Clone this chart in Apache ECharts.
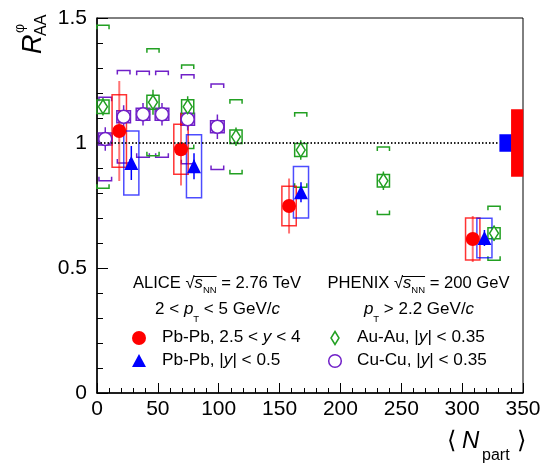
<!DOCTYPE html>
<html><head><meta charset="utf-8">
<script src="https://cdn.jsdelivr.net/npm/echarts@6/dist/echarts.min.js"></script>
<style>html,body{margin:0;padding:0;background:#fff}#c{width:547px;height:463px}</style>
</head><body><div id="c"></div>
<script>
// ---- data ----
// ALICE Pb-Pb, 2.5 < y < 4
const fwdX = [18.3, 69.0, 157.8, 308.7];
const fwdY = [1.048, 0.975, 0.748, 0.616];
const fwdStat = [0.20, 0.145, 0.11, 0.092];
const fwdSys = [0.145, 0.10, 0.079, 0.084];
// ALICE Pb-Pb, |y| < 0.5
const midX = [28.2, 79.7, 167.6, 318.3];
const midY = [0.92, 0.907, 0.803, 0.62];
const midStat = [0.068, 0.052, 0.04, 0.032];
const midSys = [0.128, 0.126, 0.103, 0.079];
// PHENIX Au-Au, |y| < 0.35
const auX = [4.9, 46.0, 74.5, 114.2, 167.4, 235.3, 326.2];
const auY = [1.145, 1.163, 1.145, 1.025, 0.972, 0.849, 0.639];
const auStat = [0.035, 0.05, 0.042, 0.037, 0.039, 0.037, 0.03];
const auBoxErr = [0.027, 0.028, 0.028, 0.027, 0.026, 0.025, 0.022];
const auBracket = [0.326, 0.214, 0.167, 0.148, 0.149, 0.135, 0.108];
// PHENIX Cu-Cu, |y| < 0.35
const cuX = [6.8, 21.9, 37.8, 53.4, 74.5, 98.9];
const cuY = [1.016, 1.105, 1.115, 1.115, 1.095, 1.065];
const cuStat = [0.047, 0.046, 0.045, 0.045, 0.045, 0.049];
const cuBoxErr = [0.024, 0.024, 0.024, 0.024, 0.024, 0.024];
const cuBracket = [0.167, 0.185, 0.172, 0.172, 0.178, 0.171];
// global uncertainties (mid = blue, fwd = red)
const globX = [335.7, 345.2];
const globErr = [0.035, 0.135];
// reference line
const refLine = [[0, 1], [330, 1]];
// axes
const xMin = 0, xMax = 350, xStep = 50;
const yMin = 0, yMax = 1.5, yStep = 0.5;

const RED = '#ff0000', BLUE = '#0000ff', GREEN = '#22a022', PURPLE = '#7020c8';
const FF = "'Liberation Sans', Arial, Helvetica, sans-serif";

function zip(...arrs) { return arrs[0].map((_, i) => arrs.map(a => a[i])); }

function boxSeries(data, hw, stroke, fill, lw) {
  return {
    type: 'custom', data, silent: true, renderItem: (p, api) => {
      const x = api.value(0), y = api.value(1), e = api.value(2);
      const a = api.coord([x - hw, y + e]), b = api.coord([x + hw, y - e]);
      return { type: 'rect', shape: { x: a[0], y: a[1], width: b[0] - a[0], height: b[1] - a[1] },
        style: { fill: fill || 'none', stroke: stroke || 'none', lineWidth: lw || 0 } };
    }
  };
}
function errSeries(data, color, lw) {
  return {
    type: 'custom', data, silent: true, renderItem: (p, api) => {
      const x = api.value(0), y = api.value(1), e = api.value(2);
      const a = api.coord([x, y + e]), b = api.coord([x, y - e]);
      return { type: 'line', shape: { x1: a[0], y1: a[1], x2: b[0], y2: b[1] }, style: { stroke: color, lineWidth: lw } };
    }
  };
}
function bracketSeries(data, hw, tick, color) {
  return {
    type: 'custom', data, silent: true, renderItem: (p, api) => {
      const x = api.value(0), y = api.value(1), e = api.value(2);
      const t = api.coord([x, y + e])[1], b = api.coord([x, y - e])[1];
      const l = api.coord([x - hw, y])[0], r = api.coord([x + hw, y])[0];
      const st = { fill: 'none', stroke: color, lineWidth: 1.5 };
      return { type: 'group', children: [
        { type: 'polyline', shape: { points: [[l, t + tick], [l, t], [r, t], [r, t + tick]] }, style: st },
        { type: 'polyline', shape: { points: [[l, b - tick], [l, b], [r, b], [r, b - tick]] }, style: st }
      ] };
    }
  };
}

// text helpers
const ctx = document.createElement('canvas').getContext('2d');
function fontStr(p) { return (p.i ? 'italic ' : '') + (p.s || 17) + 'px ' + FF; }
function measure(p) { ctx.font = fontStr(p); return ctx.measureText(p.t).width; }
function textLine(pieces, x, y, align, size) {
  pieces.forEach(p => { if (!p.s) p.s = size; });
  const ws = pieces.map(measure);
  const total = ws.reduce((a, b) => a + b, 0);
  let cx = align === 'center' ? x - total / 2 : x;
  const els = []; let o0 = null, o1 = null;
  pieces.forEach((p, k) => {
    els.push({ type: 'text', silent: true, style: { text: p.t, x: cx, y: y + (p.dy || 0), font: fontStr(p), fill: '#000', textAlign: 'left', textVerticalAlign: 'middle' } });
    if (p.ol) { if (o0 === null) o0 = cx; o1 = cx + ws[k]; }
    cx += ws[k];
  });
  if (o0 !== null) els.push({ type: 'line', silent: true, shape: { x1: o0 - 1, y1: y - 7, x2: o1, y2: y - 7 }, style: { stroke: '#000', lineWidth: 1 } });
  return els;
}

const graphics = [].concat(
  textLine([{ t: 'ALICE ' }, { t: '√' }, { t: 's', i: 1, ol: 1 }, { t: 'NN', s: 9.5, dy: 7, ol: 1 }, { t: ' = 2.76 TeV' }], 217, 283.5, 'center', 16.6),
  textLine([{ t: 'PHENIX ' }, { t: '√' }, { t: 's', i: 1, ol: 1 }, { t: 'NN', s: 9.5, dy: 7, ol: 1 }, { t: ' = 200 GeV' }], 418.5, 283.5, 'center', 16.6),
  textLine([{ t: '2 < ' }, { t: 'p', i: 1 }, { t: 'T', s: 9.5, dy: 10 }, { t: ' < 5 GeV/' }, { t: 'c', i: 1 }], 217.5, 309, 'center', 17),
  textLine([{ t: 'p', i: 1 }, { t: 'T', s: 9.5, dy: 10 }, { t: ' > 2.2 GeV/' }, { t: 'c', i: 1 }], 419, 309, 'center', 17),
  textLine([{ t: 'Pb-Pb, 2.5 < ' }, { t: 'y', i: 1 }, { t: ' < 4' }], 162, 337.5, 'left', 17.2),
  textLine([{ t: 'Pb-Pb, |' }, { t: 'y', i: 1 }, { t: '| < 0.5' }], 162, 360, 'left', 17.2),
  textLine([{ t: 'Au-Au, |' }, { t: 'y', i: 1 }, { t: '| < 0.35' }], 357, 337.5, 'left', 17.2),
  textLine([{ t: 'Cu-Cu, |' }, { t: 'y', i: 1 }, { t: '| < 0.35' }], 357, 360, 'left', 17.2),
  [
    { type: 'circle', silent: true, shape: { cx: 139, cy: 338, r: 7 }, style: { fill: RED } },
    { type: 'polygon', silent: true, shape: { points: [[132, 367], [146, 367], [139, 354]] }, style: { fill: BLUE } },
    { type: 'polygon', silent: true, shape: { points: [[335, 331.5], [339, 338], [335, 344.5], [331, 338]] }, style: { fill: 'none', stroke: GREEN, lineWidth: 1.5 } },
    { type: 'circle', silent: true, shape: { cx: 335, cy: 361, r: 6.3 }, style: { fill: 'none', stroke: PURPLE, lineWidth: 1.5 } },
    // x-axis title
    { type: 'text', silent: true, style: { text: '⟨', x: 451, y: 441, font: '24px ' + FF, fill: '#000', textAlign: 'center', textVerticalAlign: 'middle' } },
    { type: 'text', silent: true, style: { text: 'N', x: 462, y: 441, font: 'italic 24px ' + FF, fill: '#000', textAlign: 'left', textVerticalAlign: 'middle' } },
    { type: 'text', silent: true, style: { text: 'part', x: 482, y: 456, font: '16px ' + FF, fill: '#000', textAlign: 'left', textVerticalAlign: 'middle' } },
    { type: 'text', silent: true, style: { text: '⟩', x: 521, y: 441, font: '24px ' + FF, fill: '#000', textAlign: 'center', textVerticalAlign: 'middle' } },
    // y-axis title (rotated)
    { type: 'group', x: 33, y: 54, rotation: Math.PI / 2, silent: true, children: [
      { type: 'text', style: { text: 'R', x: 0, y: 0, font: 'italic 27px ' + FF, fill: '#000', textAlign: 'left', textVerticalAlign: 'middle' } },
      { type: 'text', style: { text: 'φ', x: 21, y: -13, font: '14px ' + FF, fill: '#000', textAlign: 'left', textVerticalAlign: 'middle' } },
      { type: 'text', style: { text: 'AA', x: 18, y: 9, font: '16px ' + FF, fill: '#000', textAlign: 'left', textVerticalAlign: 'middle' } }
    ] }
  ]
);

const chart = echarts.init(document.getElementById('c'), null, { renderer: 'canvas' });
chart.setOption({
  animation: false,
  backgroundColor: '#fff',
  grid: { left: 97, top: 18, width: 426, height: 375, show: true, borderColor: '#000', borderWidth: 1, backgroundColor: 'transparent' },
  xAxis: {
    type: 'value', min: xMin, max: xMax, interval: xStep,
    axisLine: { show: true, onZero: false, lineStyle: { color: '#000', width: 1.5 } },
    axisTick: { show: true, inside: true, length: 10, lineStyle: { color: '#000', width: 1 } },
    minorTick: { show: true, splitNumber: 5, length: 5, lineStyle: { color: '#000', width: 1 } },
    splitLine: { show: false },
    axisLabel: { fontSize: 21, color: '#000', fontFamily: FF, margin: 6 }
  },
  yAxis: {
    type: 'value', min: yMin, max: yMax, interval: yStep,
    axisLine: { show: true, onZero: false, lineStyle: { color: '#000', width: 1.5 } },
    axisTick: { show: true, inside: true, length: 11, lineStyle: { color: '#000', width: 1 } },
    minorTick: { show: true, splitNumber: 5, length: 6, lineStyle: { color: '#000', width: 1 } },
    splitLine: { show: false },
    axisLabel: { fontSize: 21, color: '#000', fontFamily: FF, margin: 10 }
  },
  graphic: graphics,
  series: [
    { type: 'line', data: refLine, symbol: 'none', silent: true, lineStyle: { color: '#222', width: 2, type: [1.5, 2] } },
    boxSeries(zip(globX, [1, 1], globErr).slice(0, 1), 5.1, null, BLUE, 0),
    boxSeries(zip(globX, [1, 1], globErr).slice(1, 2), 5.0, null, RED, 0),
    bracketSeries(zip(cuX, cuY, cuBracket), 5.2, 4, PURPLE),
    bracketSeries(zip(auX, auY, auBracket), 5.0, 4, GREEN),
    boxSeries(zip(cuX, cuY, cuBoxErr), 5.6, PURPLE, null, 1.5),
    boxSeries(zip(auX, auY, auBoxErr), 5.0, GREEN, null, 1.5),
    boxSeries(zip(fwdX, fwdY, fwdSys), 5.9, 'rgba(255,0,0,0.8)', null, 1.5),
    boxSeries(zip(midX, midY, midSys), 6.2, 'rgba(0,0,255,0.7)', null, 1.5),
    errSeries(zip(fwdX, fwdY, fwdStat), 'rgba(255,0,0,0.55)', 2),
    errSeries(zip(midX, midY, midStat), BLUE, 1.5),
    errSeries(zip(auX, auY, auStat), GREEN, 1.5),
    errSeries(zip(cuX, cuY, cuStat), PURPLE, 1.5),
    { type: 'scatter', data: zip(cuX, cuY), symbol: 'circle', symbolSize: 13, silent: true,
      itemStyle: { color: '#fff', borderColor: PURPLE, borderWidth: 1.5, opacity: 1 } },
    { type: 'scatter', data: zip(auX, auY), symbol: 'diamond', symbolSize: [9, 14], silent: true,
      itemStyle: { color: '#fff', borderColor: GREEN, borderWidth: 1.5, opacity: 1 } },
    { type: 'scatter', data: zip(fwdX, fwdY), symbol: 'circle', symbolSize: 14, silent: true,
      itemStyle: { color: RED, opacity: 1 } },
    { type: 'scatter', data: zip(midX, midY), symbol: 'triangle', symbolSize: 14, silent: true,
      itemStyle: { color: BLUE, opacity: 1 } }
  ]
});
</script></body></html>
